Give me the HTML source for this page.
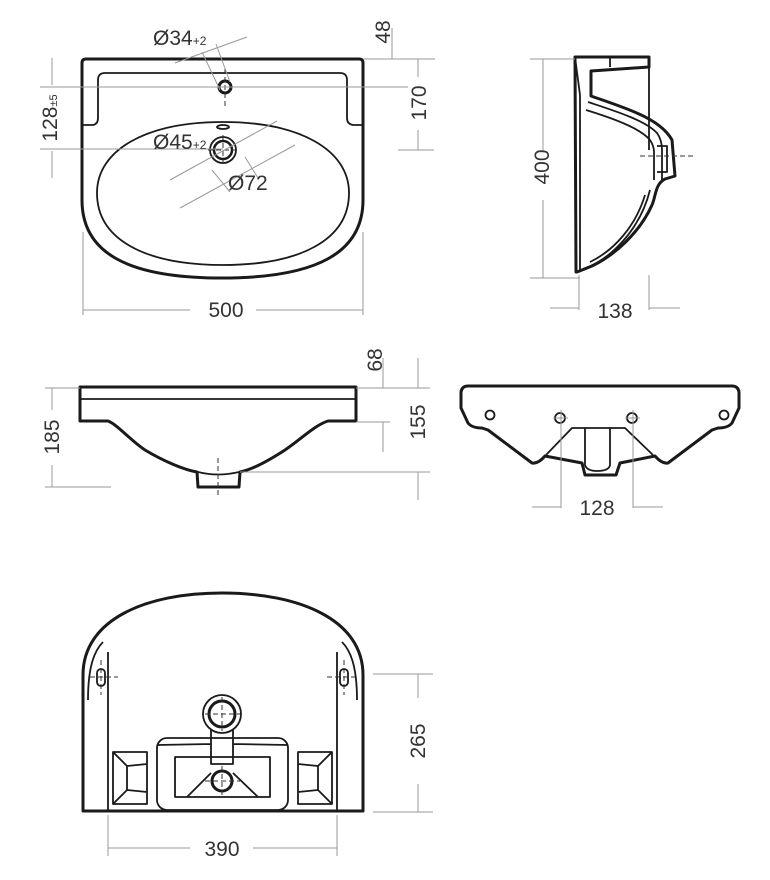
<!DOCTYPE html>
<html><head><meta charset="utf-8"><style>
html,body{margin:0;padding:0;background:#fff}
svg{display:block}
text{font-family:"Liberation Sans",sans-serif;fill:#333;font-size:21px}
.d{stroke:#999;stroke-width:1;fill:none}
.k{stroke:#1a1a1a;stroke-width:3;fill:none;stroke-linejoin:round}
.m{stroke:#1a1a1a;stroke-width:1.8;fill:none;stroke-linejoin:round}
.c{stroke:#333;stroke-width:1;fill:none;stroke-dasharray:5 3}
</style></head><body>
<svg width="770" height="880" viewBox="0 0 770 880">
<!-- TOP VIEW -->
<path class="k" d="M82,63 Q82,59 86,59 L359,59 Q363,59 363,63 L363,200 C363,252 318,278 222,278 C126,278 82,252 82,200 Z"/>
<path class="m" d="M83,125 L93,125 Q98,124 98,118 L98,80 Q98,73 105,73 L340,73 Q347,73 347,80 L347,118 Q347,124 353,125 L363,125"/>
<path class="m" d="M223,122 C300,122 349,150 349,193 C349,240 300,265 223,265 C146,265 97,240 97,193 C97,150 146,122 223,122 Z"/>
<ellipse class="m" cx="223" cy="127" rx="6" ry="2"/>
<circle cx="225" cy="87" r="6" stroke="#1a1a1a" stroke-width="3" fill="none"/>
<path class="c" d="M205,87 L242,87 M225,69 L225,106"/>
<circle class="m" cx="223" cy="150" r="13"/>
<circle cx="223" cy="150" r="9" stroke="#1a1a1a" stroke-width="2.5" fill="none"/>
<path class="c" d="M208,150 L238,150 M223,135 L223,165"/>
<!-- dims top -->
<path class="d" d="M83,232 L83,315 M363,232 L363,315 M83,310 L190,310 M256,310 L363,310"/>
<text x="226" y="317" text-anchor="middle">500</text>
<path class="d" d="M40,87 L225,87 M40,149 L223,149 M52,58 L52,85 M52,151 L52,178"/>
<text transform="translate(57,118) rotate(-90)" text-anchor="middle">128<tspan font-size="11">±5</tspan></text>
<path class="d" d="M363,59 L435,59 M225,87 L408,87 M398,150 L434,150 M418,59 L418,77 M418,130 L418,150 M392,28 L392,59"/>
<text transform="translate(426,103) rotate(-90)" text-anchor="middle">170</text>
<text transform="translate(390,32) rotate(-90)" text-anchor="middle">48</text>
<path class="d" d="M175,63 L247,37 M202,52 L220,90 M216,44 L230,82"/>
<text x="153" y="45">Ø34<tspan font-size="12">+2</tspan></text>
<path class="d" d="M170,180 L277,121 M180,208 L295,145 M212,170 L230,192 M245,157 L258,178"/>
<text x="153" y="149">Ø45<tspan font-size="12">+2</tspan></text>
<text x="228" y="190">Ø72</text>

<!-- SIDE VIEW -->
<path class="k" d="M575,57 L649,57 L649,67 L591,71 L591,96 C625,108 660,118 672,140 L675,176 L665,179 C655,184 656,196 652,205 C640,232 615,255 592,266 L577,272 L576,272 Z"/>
<path class="m" d="M575,57 L580,95 L580,272"/>
<path class="m" d="M610,57 L610,67 M649,67 L649,150"/>
<path class="m" d="M588,102 C612,110 645,120 657,133 Q662,140 662,150 L662,180 M586,110 C612,118 640,128 650,140 Q654,146 654,152 L654,180"/>
<path class="m" d="M657,146 L667,146 L667,172 L657,172"/>
<path class="m" d="M583,269 C610,260 640,230 650,190 M590,262 C615,250 636,225 645,195"/>
<path class="c" d="M640,156 L693,156"/>
<path class="d" d="M530,59 L575,59 M530,278 L580,278 M543,59 L543,150 M543,200 L543,278"/>
<text transform="translate(549,167) rotate(-90)" text-anchor="middle">400</text>
<path class="d" d="M579,275 L579,310 M649,275 L649,310 M550,308 L579,308 M649,308 L680,308"/>
<text x="615" y="318" text-anchor="middle">138</text>

<!-- FRONT VIEW -->
<path class="k" d="M80,387 L356,387 L356,421 L328,421 C315,425 300,440 285,450 C265,463 250,470 240,472 L239,487 L198,487 L197,472 C185,470 165,462 145,450 C130,440 118,425 108,421 L80,421 Z"/>
<path class="m" d="M80,399 L356,399 M198,472 Q218,477 239,472"/>
<path class="c" d="M218,458 L218,495"/>
<path class="d" d="M45,388 L80,388 M45,487 L111,487 M52,388 L52,410 M52,465 L52,487"/>
<text transform="translate(59,437) rotate(-90)" text-anchor="middle">185</text>
<path class="d" d="M356,388 L430,388 M383,358 L383,388 M418,358 L418,388 M356,422 L390,422 M383,422 L383,452 M240,472 L430,472 M418,472 L418,500"/>
<text transform="translate(382,360) rotate(-90)" text-anchor="middle">68</text>
<text transform="translate(425,422) rotate(-90)" text-anchor="middle">155</text>

<!-- REAR VIEW -->
<path class="k" d="M468,386 L732,386 Q738,386 739,392 L739,408 L732,423 Q728,428 718,428 L712,430 L668,463 Q662,464 655,456 L620,463 L616,475 L585,475 L582,463 L545,456 Q538,464 532,463 L488,430 L482,428 Q472,428 468,423 L461,408 L461,392 Q462,386 468,386 Z"/>
<path class="m" d="M546,455 L572,428 L625,428 L653,455 M585,428 L585,465 Q587,471 597,471 Q609,471 610,465 L610,428"/>
<circle class="m" cx="490" cy="415" r="4.5"/>
<circle class="m" cx="724" cy="415" r="4.5"/>
<circle class="m" cx="560" cy="418" r="5"/>
<circle class="m" cx="632" cy="418" r="5"/>
<path class="d" d="M561,410 L561,508 M633,410 L633,508 M532,507 L561,507 M633,507 L663,507 M553,418 L568,418 M625,418 L640,418"/>
<text x="597" y="515" text-anchor="middle">128</text>

<!-- BOTTOM VIEW -->
<path class="k" d="M83,811 L83,675 C83,620 145,593 222,593 C300,593 363,620 363,675 L363,811 Z"/>
<path class="m" d="M108,652 L108,810 M337,652 L337,810 M88,700 C88,665 95,650 103,642 M357,700 C357,665 350,650 342,642"/>
<rect class="m" x="97" y="669" width="8" height="17" rx="4"/>
<rect class="m" x="340" y="669" width="8" height="17" rx="4"/>
<path class="c" d="M90,677 L118,677 M101,660 L101,695 M327,677 L355,677 M344,660 L344,695"/>
<rect class="m" x="157" y="738" width="131" height="72" rx="10"/>
<path class="m" d="M175,757 L270,757 L270,797 L175,797 Z M187,797 L211,773 M258,797 L233,773"/>
<path class="m" d="M211,730 L211,764 L233,764 L233,730 M157,745 L211,744 M233,744 L288,745"/>
<circle cx="222" cy="714" r="19" fill="#fff" stroke="#1a1a1a" stroke-width="1.8"/>
<circle cx="222" cy="714" r="13" stroke="#1a1a1a" stroke-width="3" fill="none"/>
<circle cx="222" cy="781" r="10" stroke="#1a1a1a" stroke-width="3" fill="none"/>
<path class="c" d="M205,714 L240,714 M222,697 L222,731 M205,781 L240,781 M222,766 L222,796"/>
<path class="m" d="M113,752 L147,752 L147,804 L113,804 Z M113,752 L127,766 L147,764 M113,804 L127,790 L147,792 M127,766 L127,790"/>
<path class="m" d="M298,752 L332,752 L332,804 L298,804 Z M332,752 L318,766 L298,764 M332,804 L318,790 L298,792 M318,766 L318,790"/>
<path class="d" d="M373,674 L433,674 M373,812 L433,812 M418,674 L418,698 M418,784 L418,812"/>
<text transform="translate(425,741) rotate(-90)" text-anchor="middle">265</text>
<path class="d" d="M108,815 L108,856 M337,815 L337,856 M108,848 L190,848 M253,848 L337,848"/>
<text x="222" y="856" text-anchor="middle">390</text>
</svg>
</body></html>
